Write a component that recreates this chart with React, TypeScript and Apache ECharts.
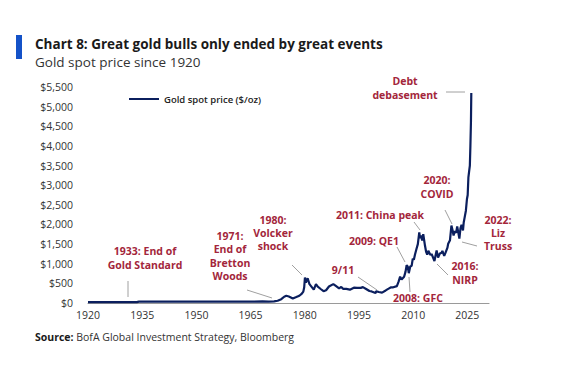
import React, { useEffect, useRef } from "react";
import * as echarts from "echarts";

const years = [
  1920, 1925, 1930, 1933.5, 1934.1, 1940, 1950, 1955, 1960, 1965, 1968.3, 1970, 1971.5,
  1972.5, 1973.5, 1974.3, 1974.9, 1975.6, 1976.7, 1977.5, 1978.5, 1979.2, 1979.6, 1979.85,
  1980.05, 1980.3, 1980.8, 1981.3, 1981.9, 1982.5, 1983.1, 1983.6, 1984.5, 1985.2, 1985.9,
  1986.7, 1987.9, 1988.5, 1989.5, 1990.1, 1990.6, 1991.5, 1992.5, 1993.6, 1994.5, 1995.5,
  1996.1, 1997.1, 1997.9, 1998.5, 1999.6, 1999.8, 2000.5, 2001.4, 2002.4, 2003.1, 2003.9,
  2004.5, 2005.5, 2006.0, 2006.4, 2006.8, 2007.5, 2007.9, 2008.2, 2008.5, 2008.8, 2009.2,
  2009.6, 2009.9, 2010.2, 2010.5, 2010.9, 2011.3, 2011.7, 2011.9, 2012.2, 2012.5, 2012.8,
  2013.3, 2013.6, 2013.9, 2014.2, 2014.8, 2015.1, 2015.9, 2016.5, 2016.9, 2017.4, 2017.9,
  2018.1, 2018.6, 2019.0, 2019.5, 2019.7, 2020.2, 2020.6, 2020.9, 2021.2, 2021.5, 2021.9,
  2022.2, 2022.8, 2023.1, 2023.4, 2023.8, 2024.0, 2024.3, 2024.6, 2024.9, 2025.1, 2025.3,
  2025.5, 2025.7, 2025.85, 2026.0, 2026.1,
];
const prices = [
  20.67, 20.67, 20.67, 20.67, 35, 35, 35, 35, 35.3, 35.1, 39, 36, 41,
  58, 97, 160, 183, 165, 114, 145, 185, 240, 290, 400,
  650, 520, 630, 480, 410, 340, 480, 415, 350, 300, 325,
  420, 480, 440, 370, 410, 360, 360, 340, 390, 385, 385,
  405, 350, 305, 295, 255, 300, 280, 265, 320, 360, 400,
  400, 430, 550, 670, 600, 670, 800, 960, 930, 760, 930,
  950, 1130, 1100, 1230, 1370, 1500, 1800, 1650, 1720, 1590, 1750,
  1450, 1300, 1230, 1330, 1220, 1250, 1070, 1340, 1160, 1260, 1280,
  1330, 1200, 1290, 1410, 1510, 1600, 1970, 1860, 1720, 1830, 1790,
  1950, 1640, 1900, 1990, 1850, 2050, 2200, 2350, 2650, 2750, 3200,
  3350, 3500, 4000, 4600, 5350,
];
const yTicks = [0, 500, 1000, 1500, 2000, 2500, 3000, 3500, 4000, 4500, 5000, 5500];
const xTickYears = [1920, 1935, 1950, 1965, 1980, 1995, 2010, 2025];

const RED = "#a3263b";
const GREY = "#a0a0a0";
const FONT = "'Open Sans', 'Noto Sans', sans-serif";

type Note = { lines: string[]; x: number; y: number; leader: number[] };
const notes: Note[] = [
  { lines: ["1933: End of", "Gold Standard"], x: 145, y: 258, leader: [128, 281, 128, 297] },
  { lines: ["1971:", "End of", "Bretton", "Woods"], x: 230, y: 256, leader: [247, 290, 272, 298] },
  { lines: ["1980:", "Volcker", "shock"], x: 273, y: 233, leader: [292, 265, 302, 275] },
  { lines: ["9/11"], x: 343, y: 270, leader: [358, 277, 377, 290] },
  { lines: ["2009: QE1"], x: 374, y: 241, leader: [397, 247, 405, 262] },
  { lines: ["2011: China peak"], x: 380, y: 215, leader: [414, 222, 420, 230] },
  { lines: ["2008: GFC"], x: 418, y: 298, leader: [409, 277, 410, 292] },
  { lines: ["2016:", "NIRP"], x: 465, y: 273, leader: [437, 264, 448, 275] },
  { lines: ["2020:", "COVID"], x: 437, y: 187, leader: [445, 210, 452, 224] },
  { lines: ["2022:", "Liz", "Truss"], x: 498, y: 233, leader: [462, 242, 477, 246] },
  { lines: ["Debt", "debasement"], x: 405, y: 88, leader: [446, 92, 465, 92] },
];

export default function App() {
  const ref = useRef<HTMLDivElement>(null);
  useEffect(() => {
    if (!ref.current) return;
    const chart = echarts.init(ref.current, undefined, { renderer: "svg" });
    const data = years.map((y, i) => [y, prices[i]]);
    const graphics: any[] = [
      { type: "rect", shape: { x: 16, y: 35, width: 6, height: 24 }, style: { fill: "#1452c8" } },
      {
        type: "text", x: 35, y: 44,
        style: { text: "Chart 8: Great gold bulls only ended by great events", font: `bold 13.5px ${FONT}`, fill: "#1a1a1a", verticalAlign: "middle" },
      },
      {
        type: "text", x: 35, y: 62,
        style: { text: "Gold spot price since 1920", font: `13.5px ${FONT}`, fill: "#333", verticalAlign: "middle" },
      },
      {
        type: "text", x: 35, y: 337,
        style: {
          text: "{b|Source:} BofA Global Investment Strategy, Bloomberg",
          font: `10.5px ${FONT}`, fill: "#333", verticalAlign: "middle",
          rich: { b: { fontWeight: "bold", fontSize: 10.5, fontFamily: FONT, fill: "#1a1a1a" } },
        },
      },
    ];
    notes.forEach((n) => {
      graphics.push({
        type: "line",
        shape: { x1: n.leader[0], y1: n.leader[1], x2: n.leader[2], y2: n.leader[3] },
        style: { stroke: GREY, lineWidth: 1 },
      });
      graphics.push({
        type: "text", x: n.x, y: n.y,
        style: {
          text: n.lines.join("\n"), font: `bold 10.5px ${FONT}`, fill: RED,
          align: "center", verticalAlign: "middle", lineHeight: 13.2,
        },
      });
    });
    chart.setOption({
      animation: false,
      grid: { left: 88, right: 83, top: 87, bottom: 71, containLabel: false },
      legend: {
        left: 124, top: 89, itemWidth: 30, itemHeight: 2, icon: "rect",
        textStyle: { fontFamily: FONT, fontSize: 9.5, color: "#222", fontWeight: 600 },
        itemGap: 4,
      },
      xAxis: {
        type: "value", min: 1920, max: 2031, interval: 15,
        axisLine: { show: true, lineStyle: { color: "#9a9a9a", width: 1.2 } },
        axisTick: { show: false },
        splitLine: { show: false },
        axisLabel: {
          fontFamily: FONT, fontSize: 10.5, color: "#333", margin: 6,
          formatter: (v: number) => (xTickYears.includes(v) ? String(v) : ""),
        },
      },
      yAxis: {
        type: "value", min: 0, max: yTicks[yTicks.length - 1], interval: 500,
        axisLine: { show: false }, axisTick: { show: false }, splitLine: { show: false },
        axisLabel: {
          fontFamily: FONT, fontSize: 10.5, color: "#333", margin: 15,
          formatter: (v: number) => "$" + v.toLocaleString("en-US"),
        },
      },
      series: [
        {
          name: "Gold spot price ($/oz)", type: "line", data, symbol: "none",
          lineStyle: { color: "#0b1f5e", width: 2.2 }, itemStyle: { color: "#0b1f5e" },
        },
      ],
      graphic: graphics,
    });
    return () => chart.dispose();
  }, []);
  return <div ref={ref} style={{ width: 572, height: 374, margin: -8, background: "#fff" }} />;
}
